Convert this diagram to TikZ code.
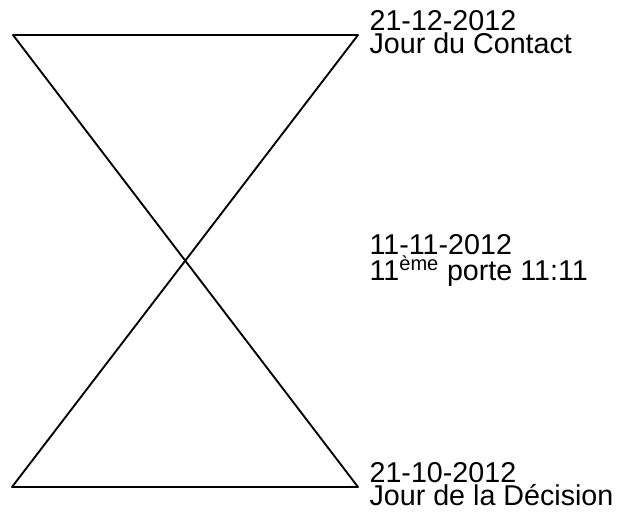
\documentclass[tikz,border=0pt]{standalone}
\usepackage{fontspec}
\setmainfont{Liberation Sans}
\usetikzlibrary{positioning}
\begin{document}
\begin{tikzpicture}[x=0.75pt, y=-0.75pt, line join=round, line cap=round,
  font=\fontsize{21.5}{17.6}\selectfont]
\useasboundingbox (0,0) rectangle (617,514);
\tikzset{edge/.style={line width=1.4pt}, date/.style={align=left, inner sep=0pt}}
\coordinate (TL) at (13,35);
\coordinate (TR) at (358,35);
\coordinate (BL) at (12,487);
\coordinate (BR) at (358,487);
\coordinate (X) at (intersection of TL--BR and TR--BL);
%\draw[edge] (TL) -- (TR);
\draw [edge](TL) -- (TR);
\draw [edge](TL) -- (BR);
\draw [edge](TR) -- (BL);
\draw [edge](BL) -- (BR);
\node[date, right=8.5pt of TR, yshift=2pt] (contact) {21-12-2012\\Jour du Contact};
\node[date, anchor=west, xshift=8.5pt] (porte) at (X -| TR) {11-11-2012\\11\textsuperscript{ème} porte 11:11};
\node[date, right=8.5pt of BR, yshift=2pt] (decision) {21-10-2012\\Jour de la Décision};
\end{tikzpicture}
\end{document}
